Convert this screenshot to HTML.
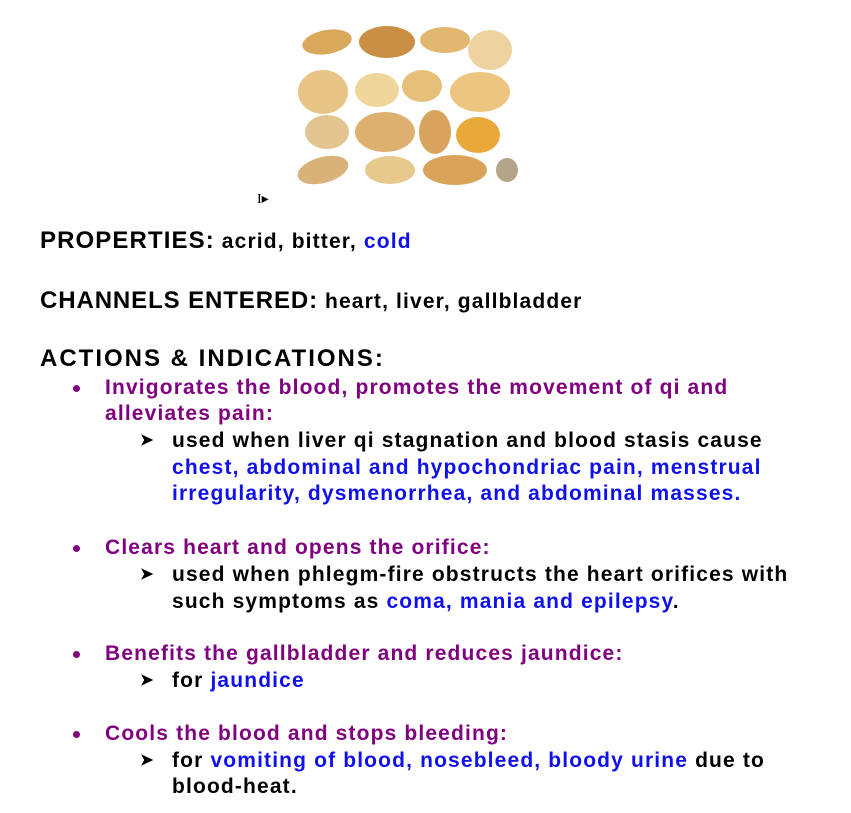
<!DOCTYPE html>
<html>
<head>
<meta charset="utf-8">
<style>
  html,body{margin:0;padding:0;background:#fff;}
  body{width:851px;height:813px;position:relative;overflow:hidden;
    font-family:"Liberation Sans",Arial,sans-serif;font-weight:bold;color:#000;}
  .ln{position:absolute;white-space:nowrap;font-size:21px;line-height:24px;letter-spacing:1.15px;}
  .h{font-size:24px;}
  .p{color:#800080;}
  .b{color:#1010ee;}
  .dot{position:absolute;width:7px;height:7px;border-radius:50%;background:#800080;}
  .arr{position:absolute;font-size:16px;line-height:24px;}
</style>
</head>
<body>
<svg style="position:absolute;left:295px;top:20px" width="225" height="170" viewBox="0 0 225 170">
  <ellipse cx="32" cy="22" rx="25" ry="12" fill="#d9a85a" transform="rotate(-10 32 22)"/>
  <ellipse cx="92" cy="22" rx="28" ry="16" fill="#c98f45"/>
  <ellipse cx="150" cy="20" rx="25" ry="13" fill="#e2b870"/>
  <ellipse cx="195" cy="30" rx="22" ry="20" fill="#eed2a0"/>
  <ellipse cx="28" cy="72" rx="25" ry="22" fill="#e8c486"/>
  <ellipse cx="82" cy="70" rx="22" ry="17" fill="#f0d69a"/>
  <ellipse cx="127" cy="66" rx="20" ry="16" fill="#e6c07a"/>
  <ellipse cx="185" cy="72" rx="30" ry="20" fill="#ecc680"/>
  <ellipse cx="32" cy="112" rx="22" ry="17" fill="#e4c592"/>
  <ellipse cx="90" cy="112" rx="30" ry="20" fill="#ddb070"/>
  <ellipse cx="140" cy="112" rx="16" ry="22" fill="#d9a55e"/>
  <ellipse cx="183" cy="115" rx="22" ry="18" fill="#e9a83a"/>
  <ellipse cx="28" cy="150" rx="26" ry="13" fill="#d9b27a" transform="rotate(-15 28 150)"/>
  <ellipse cx="95" cy="150" rx="25" ry="14" fill="#e7c98e"/>
  <ellipse cx="160" cy="150" rx="32" ry="15" fill="#d9a45a"/>
  <ellipse cx="212" cy="150" rx="11" ry="12" fill="#b4a48a"/>
</svg>
<div style="position:absolute;left:257px;top:191px;font-size:14px;font-weight:normal;font-family:'Liberation Serif',serif;">I&#9656;</div>

<div class="ln" style="left:40px;top:229px"><span class="h" style="letter-spacing:1.1px">PROPERTIES:</span> acrid, bitter, <span class="b">cold</span></div>
<div class="ln" style="left:40px;top:289px"><span class="h" style="letter-spacing:0.9px">CHANNELS ENTERED:</span> heart, liver, gallbladder</div>
<div class="ln h" style="left:40px;top:347px;letter-spacing:2px">ACTIONS &amp; INDICATIONS:</div>

<div class="dot" style="left:73px;top:385px"></div>
<div class="ln p" style="left:105px;top:376px">Invigorates the blood, promotes the movement of qi and</div>
<div class="ln p" style="left:105px;top:402px">alleviates pain:</div>
<div class="arr" style="left:140px;top:429px">&#10148;</div>
<div class="ln" style="left:172px;top:429px">used when liver qi stagnation and blood stasis cause</div>
<div class="ln b" style="left:172px;top:456px">chest, abdominal and hypochondriac pain, menstrual</div>
<div class="ln b" style="left:172px;top:482px">irregularity, dysmenorrhea, and abdominal masses.</div>

<div class="dot" style="left:73px;top:545px"></div>
<div class="ln p" style="left:105px;top:536px">Clears heart and opens the orifice:</div>
<div class="arr" style="left:140px;top:563px">&#10148;</div>
<div class="ln" style="left:172px;top:563px">used when phlegm-fire obstructs the heart orifices with</div>
<div class="ln" style="left:172px;top:590px">such symptoms as <span class="b">coma, mania and epilepsy</span>.</div>

<div class="dot" style="left:73px;top:651px"></div>
<div class="ln p" style="left:105px;top:642px">Benefits the gallbladder and reduces jaundice:</div>
<div class="arr" style="left:140px;top:669px">&#10148;</div>
<div class="ln" style="left:172px;top:669px">for <span class="b">jaundice</span></div>

<div class="dot" style="left:73px;top:731px"></div>
<div class="ln p" style="left:105px;top:722px">Cools the blood and stops bleeding:</div>
<div class="arr" style="left:140px;top:749px">&#10148;</div>
<div class="ln" style="left:172px;top:749px">for <span class="b">vomiting of blood, nosebleed, bloody urine</span> due to</div>
<div class="ln" style="left:172px;top:775px">blood-heat.</div>
</body>
</html>
